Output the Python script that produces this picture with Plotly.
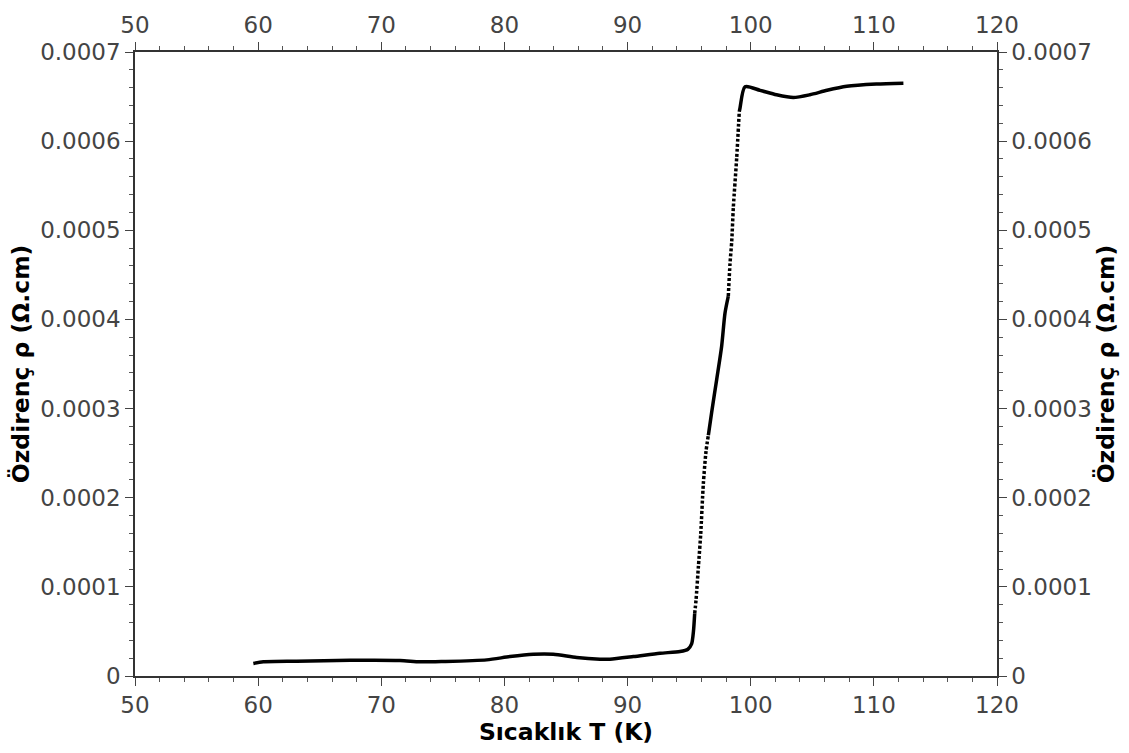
import plotly.graph_objects as go

# Resistivity vs temperature (superconducting transition)
temperature_K = [
    59.61, 60.42, 63.13, 67.46, 71.52, 73.14, 75.04, 78.56, 80.45, 82.35,
    83.97, 85.87, 87.76, 88.57, 90.47, 92.63, 94.26, 94.90, 95.20, 95.35,
    95.45, 95.56, 95.75, 95.94, 96.15, 96.37, 96.56, 96.83, 97.24, 97.64,
    97.91, 98.18, 98.32, 98.46, 98.59, 98.86, 99.07, 99.13, 99.54, 100.76,
    102.10, 103.46, 104.80, 106.20, 107.80, 110.20, 112.40,
]
resistivity_ohm_cm = [
    1.41e-5, 1.59e-5, 1.66e-5, 1.76e-5, 1.74e-5, 1.59e-5, 1.63e-5, 1.81e-5, 2.18e-5, 2.44e-5,
    2.44e-5, 2.07e-5, 1.89e-5, 1.89e-5, 2.18e-5, 2.55e-5, 2.75e-5, 3.00e-5, 3.60e-5, 5.00e-5,
    7.00e-5, 8.54e-5, 1.224e-4, 1.594e-4, 2.149e-4, 2.52e-4, 2.70e-4, 2.96e-4, 3.33e-4, 3.70e-4,
    4.07e-4, 4.26e-4, 4.63e-4, 4.88e-4, 5.26e-4, 5.81e-4, 6.33e-4, 6.37e-4, 6.61e-4, 6.57e-4,
    6.52e-4, 6.49e-4, 6.52e-4, 6.57e-4, 6.615e-4, 6.64e-4, 6.65e-4,
]

x_tick_values = [50, 60, 70, 80, 90, 100, 110, 120]
x_tick_labels = ["50", "60", "70", "80", "90", "100", "110", "120"]
y_tick_values = [0, 0.0001, 0.0002, 0.0003, 0.0004, 0.0005, 0.0006, 0.0007]
y_tick_labels = ["0", "0.0001", "0.0002", "0.0003", "0.0004", "0.0005", "0.0006", "0.0007"]

# Sparse sampling in the fast parts of the transition shows up as dots
segments = [
    (59.0, 95.45, "solid"),
    (95.45, 96.56, "3px,2px"),
    (96.56, 98.18, "solid"),
    (98.18, 99.07, "3px,2px"),
    (99.07, 113.0, "solid"),
]

fig = go.Figure()
for t_lo, t_hi, dash in segments:
    xs = [t for t in temperature_K if t_lo <= t <= t_hi]
    ys = [r for t, r in zip(temperature_K, resistivity_ohm_cm) if t_lo <= t <= t_hi]
    fig.add_trace(go.Scatter(
        x=xs, y=ys, mode="lines",
        line=dict(color="black", width=3.5, dash=dash, shape="spline", smoothing=0.7),
        showlegend=False, hoverinfo="skip",
    ))

# Placeholder trace so the mirrored top/right axes are drawn
fig.add_trace(go.Scatter(x=[None], y=[None], xaxis="x2", yaxis="y2",
                         showlegend=False, hoverinfo="skip"))

tick_font = dict(family="DejaVu Sans", size=23, color="#444444")
title_font = dict(family="DejaVu Sans", size=23.5, color="black")
x_title = "<b>Sıcaklık T (K)</b>"
y_title = "<b>Özdirenç ρ (Ω.cm)</b>"

common_x = dict(
    range=[50, 120], tickvals=x_tick_values, ticktext=x_tick_labels,
    ticks="outside", ticklen=8, tickwidth=1.3, tickcolor="#444444",
    showline=True, linecolor="#333333", linewidth=1.5,
    showgrid=False, zeroline=False, tickfont=tick_font,
    minor=dict(ticks="outside", ticklen=4, tickwidth=1.1, tickcolor="#555555",
               dtick=2, showgrid=False),
)
common_y = dict(
    range=[0, 0.0007], tickvals=y_tick_values, ticktext=y_tick_labels,
    ticks="outside", ticklen=8, tickwidth=1.3, tickcolor="#444444",
    showline=True, linecolor="#333333", linewidth=1.5,
    showgrid=False, zeroline=False, tickfont=tick_font,
    minor=dict(ticks="outside", ticklen=4, tickwidth=1.1, tickcolor="#555555",
               dtick=0.00002, showgrid=False),
)

fig.update_layout(
    width=1129, height=753,
    margin=dict(l=135, r=132, t=46, b=76),
    paper_bgcolor="white", plot_bgcolor="white",
    xaxis=dict(**common_x, title=dict(text=x_title, font=title_font, standoff=6)),
    yaxis=dict(**common_y, title=dict(text=y_title, font=title_font, standoff=4)),
    xaxis2=dict(**common_x, overlaying="x", side="top", anchor="y"),
    yaxis2=dict(**common_y, overlaying="y", side="right", anchor="x",
                title=dict(text=y_title, font=title_font, standoff=4)),
)

fig.write_html("out.html")
